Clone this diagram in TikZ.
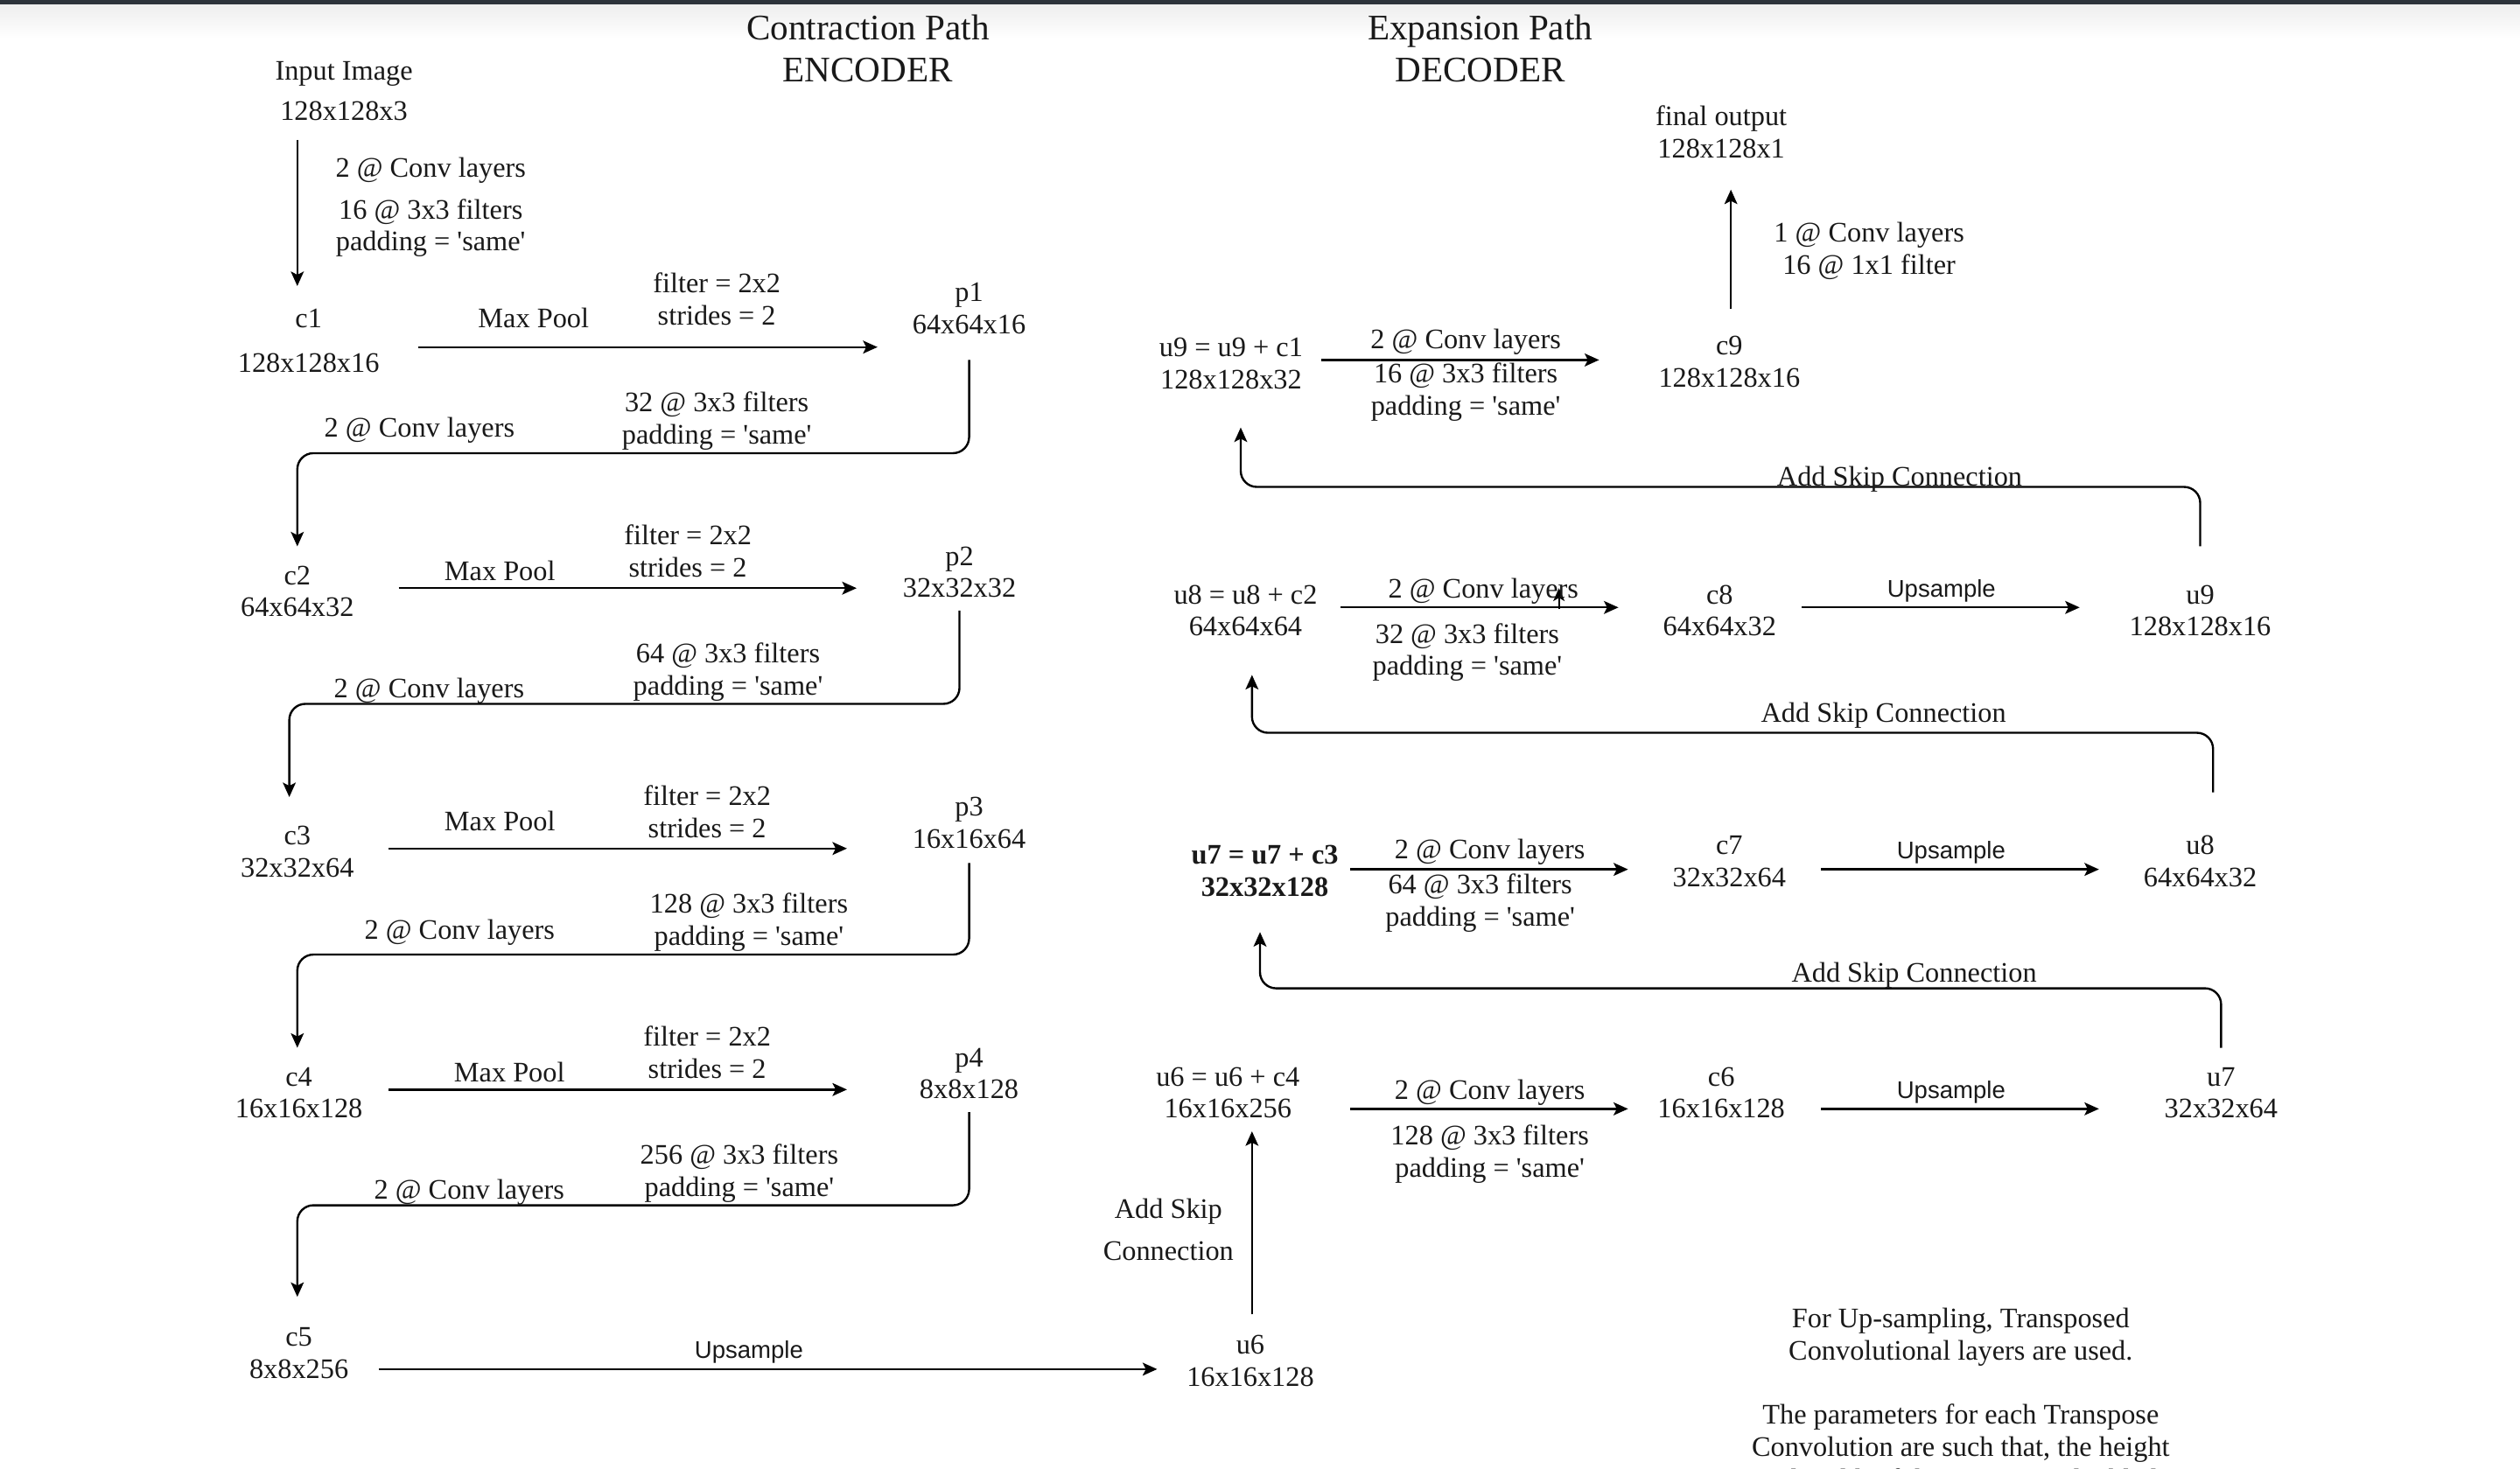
\documentclass[tikz,border=0pt]{standalone}
\usepackage{fontspec}
\setmainfont{Liberation Serif}
\setsansfont{Liberation Sans}
\usetikzlibrary{arrows.meta}
\newcommand{\sq}{\textquotesingle}
\begin{document}
\begin{tikzpicture}[x=0.5pt,y=-0.5pt,
  lbl/.style={font=\fontsize{8.8}{10}\selectfont, align=center, inner sep=0pt, text=black!90, yshift=-1pt},
  ttl/.style={font=\fontsize{11.2}{13}\selectfont, align=center, inner sep=0pt, text=black!90},
  sans/.style={font=\sffamily\fontsize{7.5}{9}\selectfont, inner sep=0pt, text=black!90, yshift=-0.8pt},
  arr/.style={line width=0.65pt, -{Stealth[length=4.5pt,width=4pt,inset=1pt]}},
  conn/.style={arr, rounded corners=5pt}]
\useasboundingbox (0,0) rectangle (1568,914);
\clip (0,0) rectangle (1568,914);
\shade[top color=black!7, bottom color=white] (0,2) rectangle (1568,24);
\fill[fill={rgb,255:red,44;green,50;blue,58}] (0,0) rectangle (1568,2.5);

% titles
\node[ttl] (enc) at (540,30) {Contraction Path\\ENCODER};
\node[ttl] (dec) at (921,30) {Expansion Path\\DECODER};

% ---------------- encoder ----------------
\node[lbl] (inp) at (214,54.5) {Input Image\\[2.5pt]128x128x3};
\node[lbl] (cv1) at (268,127) {2 @ Conv layers\\[3pt]16 @ 3x3 filters\\padding = \sq same\sq};
\coordinate (i0s) at (185,87);
\coordinate (i0e) at (185,178);
\draw[arr] (i0s) -- (i0e);

\node[lbl] (c1) at (192,210) {c1\\[4pt]128x128x16};
\node[lbl] (mp1) at (332,196) {Max Pool};
\node[lbl] (fs1) at (446,184) {filter = 2x2\\strides = 2};
\node[lbl] (p1) at (603,190) {p1\\64x64x16};
\coordinate (m1s) at (260,216); \coordinate (m1e) at (546,216);
\draw[arr] (m1s) -- (m1e);
\coordinate (k1s) at (603,224); \coordinate (k1e) at (185,340);
\draw[conn] (k1s) -- ++(0,58) -| (k1e);
\node[lbl] (cl1) at (261,266) {2 @ Conv layers};
\node[lbl] (pf1) at (446,260) {32 @ 3x3 filters\\padding = \sq same\sq};

\node[lbl] (c2) at (185,366) {c2\\64x64x32};
\node[lbl] (mp2) at (311,353) {Max Pool};
\node[lbl] (fs2) at (428,341) {filter = 2x2\\strides = 2};
\node[lbl] (p2) at (597,354) {p2\\32x32x32};
\coordinate (m2s) at (248,366); \coordinate (m2e) at (533,366);
\draw[arr] (m2s) -- (m2e);
\coordinate (k2s) at (597,380); \coordinate (k2e) at (180,496);
\draw[conn] (k2s) -- ++(0,58) -| (k2e);
\node[lbl] (cl2) at (267,428) {2 @ Conv layers};
\node[lbl] (pf2) at (453,416) {64 @ 3x3 filters\\padding = \sq same\sq};

\node[lbl] (c3) at (185,528) {c3\\32x32x64};
\node[lbl] (mp3) at (311,509) {Max Pool};
\node[lbl] (fs3) at (440,503) {filter = 2x2\\strides = 2};
\node[lbl] (p3) at (603,510) {p3\\16x16x64};
\coordinate (m3s) at (242,528); \coordinate (m3e) at (527,528);
\draw[arr] (m3s) -- (m3e);
\coordinate (k3s) at (603,537); \coordinate (k3e) at (185,652);
\draw[conn] (k3s) -- ++(0,57) -| (k3e);
\node[lbl] (cl3) at (286,578) {2 @ Conv layers};
\node[lbl] (pf3) at (466,572) {128 @ 3x3 filters\\padding = \sq same\sq};

\node[lbl] (c4) at (186,678) {c4\\16x16x128};
\node[lbl] (mp4) at (317,665) {Max Pool};
\node[lbl] (fs4) at (440,653) {filter = 2x2\\strides = 2};
\node[lbl] (p4) at (603,666) {p4\\8x8x128};
\coordinate (m4s) at (242,678); \coordinate (m4e) at (527,678);
\draw[arr] (m4s) -- (m4e);
\coordinate (k4s) at (603,692); \coordinate (k4e) at (185,807);
\draw[conn] (k4s) -- ++(0,58) -| (k4e);
\node[lbl] (cl4) at (292,740) {2 @ Conv layers};
\node[lbl] (pf4) at (460,728) {256 @ 3x3 filters\\padding = \sq same\sq};

\node[lbl] (c5) at (186,840) {c5\\8x8x256};
\node[sans] (up5) at (466,840) {Upsample};
\node[lbl] (u6) at (778,845) {u6\\16x16x128};
\coordinate (m5s) at (236,852); \coordinate (m5e) at (720,852);
\draw[arr] (m5s) -- (m5e);
\coordinate (s6s) at (779,818); \coordinate (s6e) at (779,704);
\draw[arr] (s6s) -- (s6e);
\node[lbl] (sk6) at (727,763) {Add Skip\\[3pt]Connection};

% ---------------- decoder ----------------
\node[lbl] (u6s) at (764,678) {u6 = u6 + c4\\16x16x256};
\coordinate (d6s) at (840,690); \coordinate (d6e) at (1013,690);
\draw[arr] (d6s) -- (d6e);
\node[lbl] (cl6) at (927,678) {2 @ Conv layers};
\node[lbl] (pf6) at (927,716) {128 @ 3x3 filters\\padding = \sq same\sq};
\node[lbl] (c6) at (1071,678) {c6\\16x16x128};
\node[sans] (up6) at (1214,678) {Upsample};
\coordinate (e6s) at (1133,690); \coordinate (e6e) at (1306,690);
\draw[arr] (e6s) -- (e6e);
\node[lbl] (u7) at (1382,678) {u7\\32x32x64};
\coordinate (s7s) at (1382,652); \coordinate (s7e) at (784,580);
\draw[conn] (s7s) -- ++(0,-37) -| (s7e);
\node[lbl] (sk7) at (1191,605) {Add Skip Connection};

\node[lbl, font=\bfseries\fontsize{8.8}{10}\selectfont] (u7s) at (787,540) {u7 = u7 + c3\\32x32x128};
\coordinate (d7s) at (840,541); \coordinate (d7e) at (1013,541);
\draw[arr] (d7s) -- (d7e);
\node[lbl] (cl7) at (927,528) {2 @ Conv layers};
\node[lbl] (pf7) at (921,560) {64 @ 3x3 filters\\padding = \sq same\sq};
\node[lbl] (c7) at (1076,534) {c7\\32x32x64};
\node[sans] (up7) at (1214,529) {Upsample};
\coordinate (e7s) at (1133,541); \coordinate (e7e) at (1306,541);
\draw[arr] (e7s) -- (e7e);
\node[lbl] (u8) at (1369,534) {u8\\64x64x32};
\coordinate (s8s) at (1377,493); \coordinate (s8e) at (779,420);
\draw[conn] (s8s) -- ++(0,-37) -| (s8e);
\node[lbl] (sk8) at (1172,443) {Add Skip Connection};

\node[lbl] (u8s) at (775,378) {u8 = u8 + c2\\64x64x64};
\coordinate (d8s) at (834,378); \coordinate (d8e) at (1007,378);
\draw[arr] (d8s) -- (d8e);
\coordinate (x8s) at (970,379); \coordinate (x8e) at (970,366);
\draw[line width=0.6pt, -{Stealth[length=4pt,width=3.5pt,inset=1pt]}] (x8s) -- (x8e);
\node[lbl] (cl8) at (923,366) {2 @ Conv layers};
\node[lbl] (pf8) at (913,404) {32 @ 3x3 filters\\padding = \sq same\sq};
\node[lbl] (c8) at (1070,378) {c8\\64x64x32};
\node[sans] (up8) at (1208,366) {Upsample};
\coordinate (e8s) at (1121,378); \coordinate (e8e) at (1294,378);
\draw[arr] (e8s) -- (e8e);
\node[lbl] (u9) at (1369,378) {u9\\128x128x16};
\coordinate (s9s) at (1369,340); \coordinate (s9e) at (772,266);
\draw[conn] (s9s) -- ++(0,-37) -| (s9e);
\node[lbl] (sk9) at (1182,296) {Add Skip Connection};

\node[lbl] (u9s) at (766,224) {u9 = u9 + c1\\128x128x32};
\coordinate (d9s) at (822,224); \coordinate (d9e) at (995,224);
\draw[arr] (d9s) -- (d9e);
\node[lbl] (cl9) at (912,211) {2 @ Conv layers};
\node[lbl] (pf9) at (912,242) {16 @ 3x3 filters\\padding = \sq same\sq};
\node[lbl] (c9) at (1076,223) {c9\\128x128x16};
\coordinate (o9s) at (1077,192); \coordinate (o9e) at (1077,118);
\draw[arr] (o9s) -- (o9e);
\node[lbl] (cv9) at (1163,154) {1 @ Conv layers\\16 @ 1x1 filter};
\node[lbl] (out) at (1071,80) {final output\\128x128x1};

% note
\node[lbl] (note1) at (1220,830) {For Up-sampling, Transposed\\Convolutional layers are used.};
\node[lbl] (note2) at (1220,900) {The parameters for each Transpose\\Convolution are such that, the height\\and width of the image are doubled.};
\end{tikzpicture}
\end{document}
